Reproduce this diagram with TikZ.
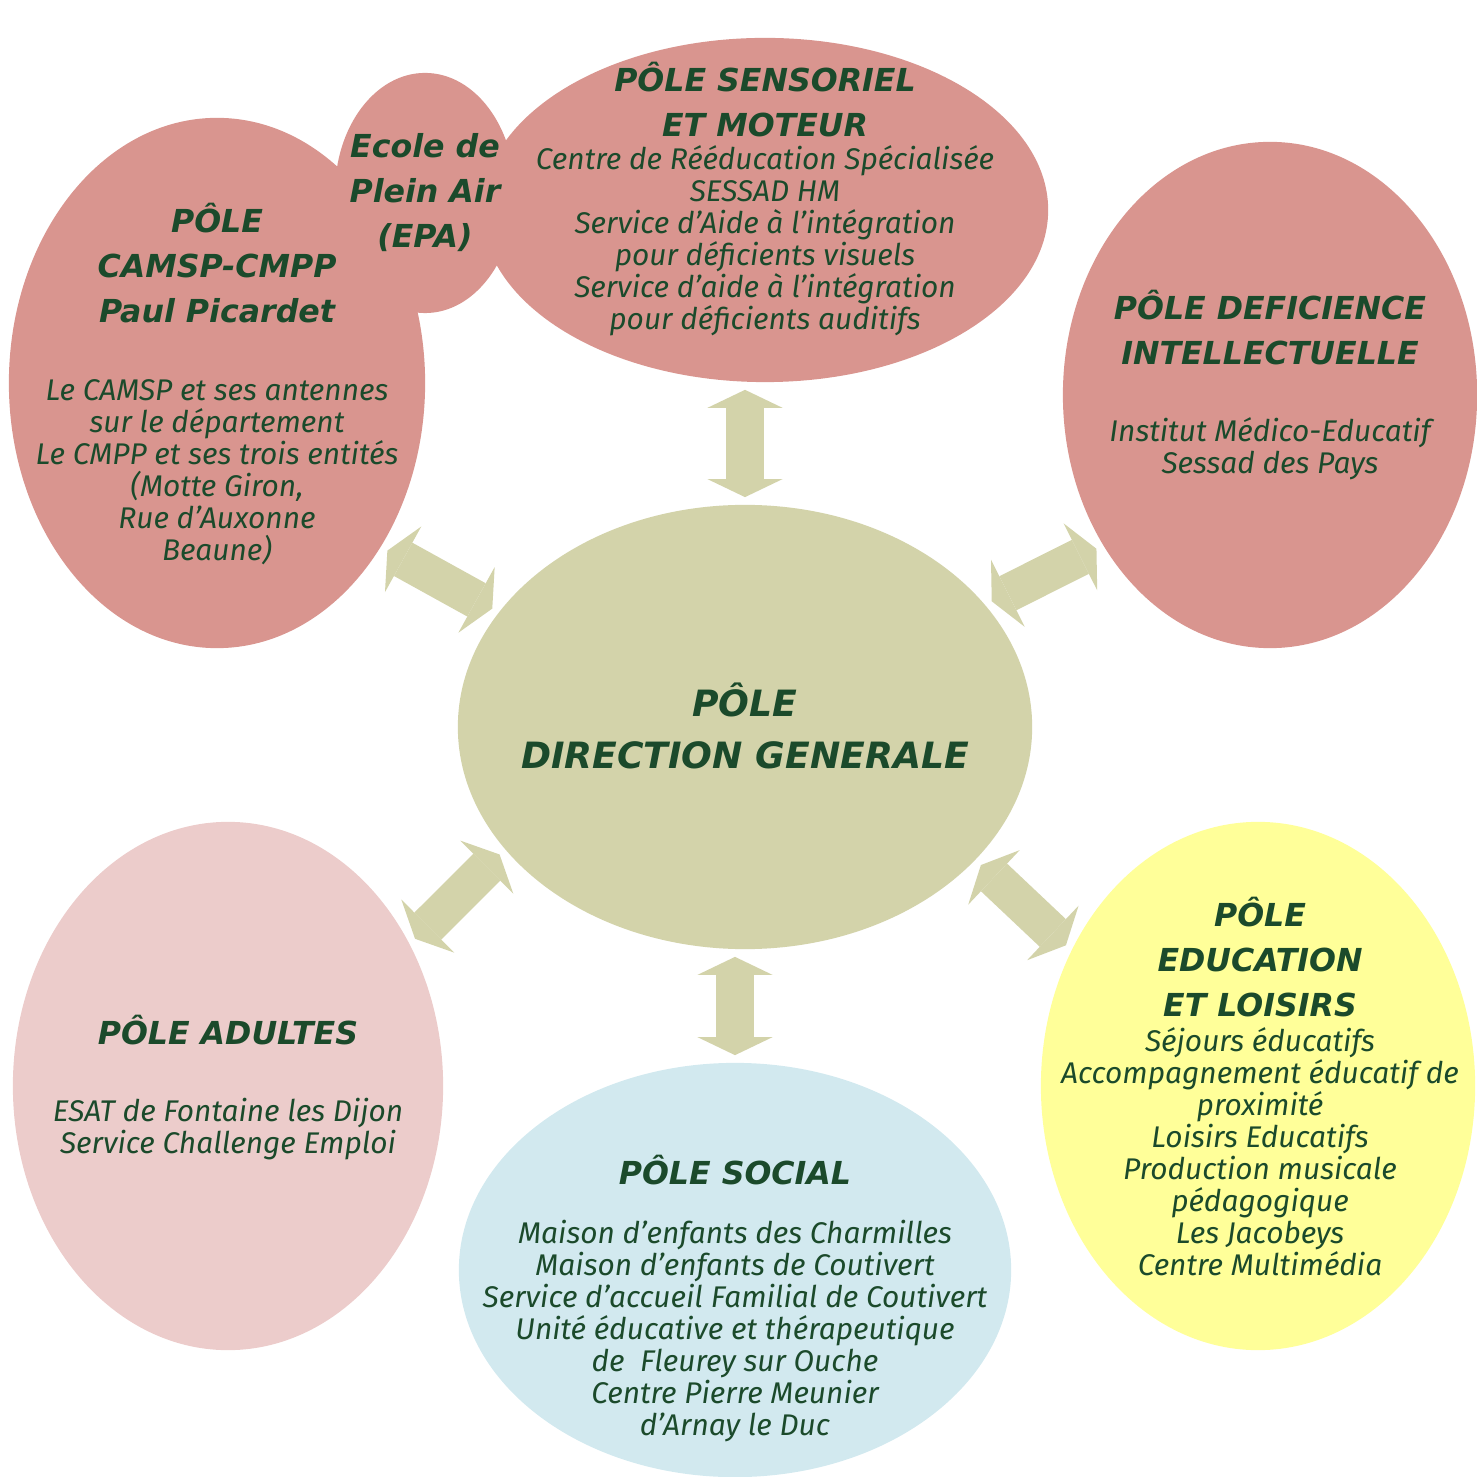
\documentclass[tikz,border=0pt]{standalone}
\usepackage{fontspec}
\setmainfont{Fira Sans}
\newfontfamily\titlefam{DejaVu Sans}
\usetikzlibrary{arrows.meta,shapes.geometric}

\definecolor{polepink}{HTML}{D9958F}
\definecolor{adupink}{HTML}{ECCCCB}
\definecolor{socblue}{HTML}{D2E9EF}
\definecolor{eduyellow}{HTML}{FFFF99}
\definecolor{dirolive}{HTML}{D3D3AA}
\definecolor{poletext}{HTML}{1B4A2B}

\newcommand{\titlefont}{\titlefam\fontsize{9}{12.8}\selectfont\bfseries\itshape}
\newcommand{\bodyfont}{\fontsize{8.5}{9.1}\selectfont\itshape}

\begin{document}
\begin{tikzpicture}[x=0.01cm,y=-0.01cm,
    pole/.style={ellipse,inner sep=0pt,draw=none},
    ptitle/.style={align=center,text=poletext,font=\titlefont,inner sep=0pt},
    pbody/.style={align=center,text=poletext,font=\bodyfont,inner sep=0pt},
    dblarrow/.style={draw=dirolive,line width=0.38cm,
      {Triangle[width=0.75cm,length=0.18cm,line width=0pt]}-{Triangle[width=0.75cm,length=0.18cm,line width=0pt]},
      shorten <=2pt,shorten >=2pt}]
  \useasboundingbox (0,0) rectangle (1476,1477);
  % poles
  \node[pole,fill=polepink,minimum width=4.16cm,minimum height=5.30cm] (camsp) at (217,383) {};
  \node[pole,fill=polepink,minimum width=5.66cm,minimum height=3.44cm] (sens) at (765,210) {};
  \node[pole,fill=polepink,minimum width=1.80cm,minimum height=2.40cm] (epa) at (425,193) {};
  \node[pole,fill=polepink,minimum width=4.14cm,minimum height=5.06cm] (defi) at (1270,395) {};
  \node[pole,fill=dirolive,minimum width=5.74cm,minimum height=4.44cm] (dir) at (745,727) {};
  \node[pole,fill=adupink,minimum width=4.30cm,minimum height=5.28cm] (adu) at (228,1086) {};
  \node[pole,fill=socblue,minimum width=5.52cm,minimum height=4.14cm] (soc) at (735,1270) {};
  \node[pole,fill=eduyellow,minimum width=4.34cm,minimum height=5.28cm] (edu) at (1258,1086) {};
  % texts
  \node[ptitle] (camsp-t) at (217,263) {PÔLE\\CAMSP-CMPP\\Paul Picardet};
  \node[pbody] (camsp-b) at (217,472) {Le CAMSP et ses antennes\\sur le département\\Le CMPP et ses trois entités\\(Motte Giron,\\Rue d’Auxonne\\Beaune)};
  \node[ptitle] (epa-t) at (425,193) {Ecole de\\Plein Air\\(EPA)};
  \node[ptitle] (sens-t) at (765,100) {PÔLE SENSORIEL\\ET MOTEUR};
  \node[pbody] (sens-b) at (765,241) {Centre de Rééducation Spécialisée\\SESSAD HM\\Service d’Aide à l’intégration\\pour déficients visuels\\Service d’aide à l’intégration\\pour déficients auditifs};
  \node[ptitle] (defi-t) at (1270,328) {PÔLE DEFICIENCE\\INTELLECTUELLE};
  \node[pbody] (defi-b) at (1270,449) {Institut Médico-Educatif\\Sessad des Pays};
  \node[ptitle,font=\titlefam\fontsize{10.3}{14.8}\selectfont\bfseries\itshape] (dir-t) at (745,726) {PÔLE\\DIRECTION GENERALE};
  \node[ptitle] (adu-t) at (228,1030) {PÔLE ADULTES};
  \node[pbody] (adu-b) at (228,1129) {ESAT de Fontaine les Dijon\\Service Challenge Emploi};
  \node[ptitle] (soc-t) at (735,1170) {PÔLE SOCIAL};
  \node[pbody] (soc-b) at (735,1331) {Maison d’enfants des Charmilles\\Maison d’enfants de Coutivert\\Service d’accueil Familial de Coutivert\\Unité éducative et thérapeutique\\de~~Fleurey sur Ouche\\Centre Pierre Meunier\\d’Arnay le Duc};
  \node[ptitle] (edu-t) at (1260,957) {PÔLE\\EDUCATION\\ET LOISIRS};
  \node[pbody] (edu-b) at (1260,1152) {Séjours éducatifs\\Accompagnement éducatif de\\proximité\\Loisirs Educatifs\\Production musicale\\pédagogique\\Les Jacobeys\\Centre Multimédia};
  % arrows
  \draw[dblarrow] (dir.north) -- (dir.north |- sens.south);
  \draw[dblarrow] (dir.south -| soc.north) -- (soc.north);
  \draw[dblarrow] (dir.155) -- (camsp.-45);
  \draw[dblarrow] (dir.27) -- (defi.222);
  \draw[dblarrow] (dir.207) -- (adu.38);
  \draw[dblarrow] (dir.-30) -- (edu.144);
\end{tikzpicture}
\end{document}
